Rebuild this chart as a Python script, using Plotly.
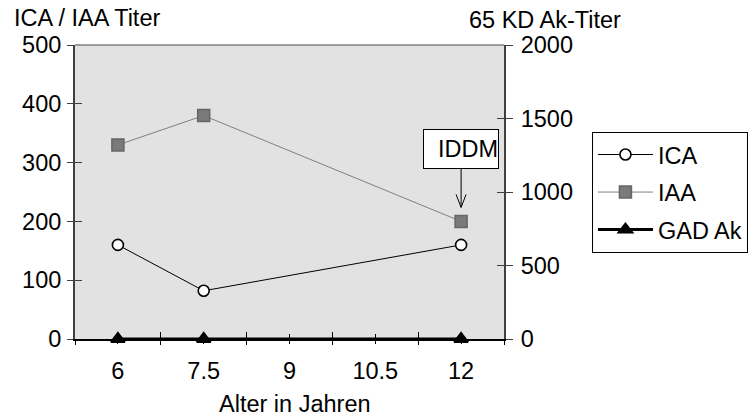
import plotly.graph_objects as go

# ---- data ----
age = [6, 7.5, 12]
ica = [160, 82, 160]
iaa = [330, 380, 200]
gad = [0, 0, 0]
x_tickvals = [6, 7.5, 9, 10.5, 12]
x_ticktext = ["6", "7.5", "9", "10.5", "12"]
x_bounds = [5.25, 6.75, 8.25, 9.75, 11.25, 12.75]
y_left_ticks = [0, 100, 200, 300, 400, 500]
y_right_ticks = [0, 500, 1000, 1500, 2000]
iddm_age = 12
iddm_value = 200

FONT = "Liberation Sans, Arial, sans-serif"
FS = 23.5

fig = go.Figure()
# left axis (ICA / IAA Titer) is yaxis2, right axis (65 KD Ak-Titer) is yaxis
fig.add_trace(go.Scatter(
    x=age, y=ica, name="ICA", mode="lines+markers", yaxis="y2", legendgroup="a",
    line=dict(color="black", width=1),
    marker=dict(symbol="circle", size=11, color="white", line=dict(color="black", width=1.6)),
))
fig.add_trace(go.Scatter(
    x=age, y=iaa, name="IAA", mode="lines+markers", yaxis="y2", legendgroup="b",
    line=dict(color="#808080", width=1),
    marker=dict(symbol="square", size=12, color="#7a7a7a", line=dict(color="#666666", width=1.5)),
))
fig.add_trace(go.Scatter(
    x=age, y=gad, name="GAD Ak", mode="lines+markers", yaxis="y", legendgroup="c",
    line=dict(color="black", width=3),
    marker=dict(symbol="triangle-up", size=12, color="black", line=dict(color="black", width=2)),
    cliponaxis=False,
))

rng = [5.25, 12.75]
common_x = dict(range=rng, showgrid=False, zeroline=False, fixedrange=True, layer="below traces")

fig.update_layout(
    width=748, height=416,
    margin=dict(l=75, r=244, t=45, b=77, autoexpand=False),
    paper_bgcolor="white",
    plot_bgcolor="#E2E2E2",
    font=dict(family=FONT, size=FS, color="black"),
    showlegend=True,
    legend=dict(
        x=1.205, y=0.705, xanchor="left", yanchor="top",
        bgcolor="white", bordercolor="black", borderwidth=1,
        font=dict(family=FONT, size=FS, color="black"),
        tracegroupgap=4, itemwidth=55,
    ),
    xaxis=dict(
        **common_x, tickmode="array", tickvals=x_tickvals, ticktext=x_ticktext,
        ticks="outside", ticklen=3, tickcolor="black", tickwidth=1,
        showline=True, linecolor="black", linewidth=1.5,
        ticklabelstandoff=7,
        tickfont=dict(family=FONT, size=FS, color="black"),
    ),
    xaxis2=dict(**common_x, overlaying="x", side="bottom", tickmode="array", tickvals=x_tickvals,
                ticks="inside", ticklen=5, tickcolor="black", showticklabels=False, showline=False),
    xaxis3=dict(**common_x, overlaying="x", side="bottom", tickmode="array", tickvals=x_bounds,
                ticks="outside", ticklen=5, tickcolor="black", showticklabels=False, showline=False),
    xaxis4=dict(**common_x, overlaying="x", side="bottom", tickmode="array", tickvals=x_bounds,
                ticks="inside", ticklen=7, tickcolor="black", showticklabels=False, showline=False),
    yaxis=dict(
        range=[0, 2000], side="right", tickmode="array", tickvals=y_right_ticks,
        ticks="outside", ticklen=7, tickcolor="#404040", tickwidth=1,
        showline=True, linecolor="#404040", linewidth=2,
        showgrid=False, zeroline=False, fixedrange=True,
        tickfont=dict(family=FONT, size=FS, color="black"),
        ticklabelstandoff=3,
    ),
    yaxis2=dict(
        range=[0, 500], overlaying="y", side="left", tickmode="array", tickvals=y_left_ticks,
        ticks="outside", ticklen=6, tickcolor="#404040", tickwidth=1,
        showline=True, linecolor="#404040", linewidth=2,
        showgrid=False, zeroline=False, fixedrange=True,
        tickfont=dict(family=FONT, size=FS, color="black"),
        ticklabelstandoff=1,
    ),
    yaxis3=dict(range=[0, 500], overlaying="y", side="left", tickmode="array", tickvals=y_left_ticks,
                ticks="inside", ticklen=7, tickcolor="#404040", showticklabels=False,
                showline=False, showgrid=False, zeroline=False),
    yaxis4=dict(range=[0, 2000], overlaying="y", side="right", tickmode="array", tickvals=y_right_ticks,
                ticks="inside", ticklen=7, tickcolor="#404040", showticklabels=False,
                showline=False, showgrid=False, zeroline=False),
    shapes=[
        dict(type="line", xref="paper", yref="paper", x0=0, x1=1, y0=1, y1=1,
             line=dict(color="#808080", width=1.5)),
        # open "V" arrow head of the IDDM pointer
        dict(type="path", xref="x", yref="y2", xsizemode="pixel", ysizemode="pixel",
             xanchor=iddm_age, yanchor=iddm_value,
             path="M-5,27 L0,14 L5,27", line=dict(color="black", width=1)),
    ],
    annotations=[
        dict(text="ICA / IAA Titer", xref="paper", yref="paper", x=-0.147, y=1.0,
             xanchor="left", yanchor="bottom", yshift=12, showarrow=False,
             font=dict(family=FONT, size=FS, color="black")),
        dict(text="65 KD Ak-Titer", xref="paper", yref="paper", x=0.914, y=1.0,
             xanchor="left", yanchor="bottom", yshift=10, showarrow=False,
             font=dict(family=FONT, size=FS, color="black")),
        dict(text="Alter in Jahren", xref="paper", yref="paper", x=(295 - 75) / 429, y=0,
             xanchor="center", yanchor="top", yshift=-50, showarrow=False,
             font=dict(family=FONT, size=FS, color="black")),
        dict(text="IDDM", x=iddm_age, y=iddm_value, xref="x", yref="y2", showarrow=True,
             ax=0, ay=-72, axref="pixel", ayref="pixel",
             arrowhead=0, arrowwidth=1, arrowcolor="black", standoff=14,
             bgcolor="white", bordercolor="black", borderwidth=1, borderpad=0,
             width=74, height=38, align="right", valign="middle",
             font=dict(family=FONT, size=FS, color="black")),
    ],
)

# reference the overlay axes so they get drawn
for xa, ya in [("x2", "y"), ("x3", "y"), ("x4", "y"), ("x", "y3"), ("x", "y4")]:
    fig.add_trace(go.Scatter(x=[None], y=[None], xaxis=xa, yaxis=ya, showlegend=False,
                             hoverinfo="skip", mode="lines"))

fig.write_html("out.html", config={"displayModeBar": False},
               post_script="document.body.style.margin='0px';")
